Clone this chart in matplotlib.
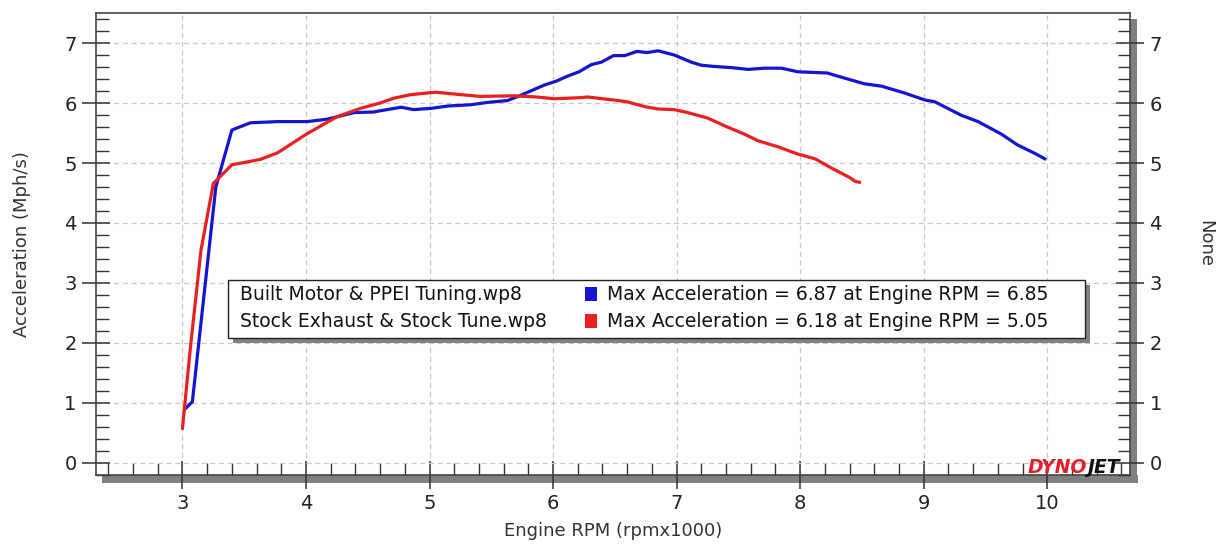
import matplotlib
matplotlib.use("Agg")
import matplotlib.pyplot as plt
from matplotlib.patches import Rectangle
from matplotlib.ticker import MultipleLocator

# ---- data ----
built_rpm = [3.02, 3.08, 3.27, 3.40, 3.55, 3.77, 4.01, 4.17, 4.39, 4.55, 4.60, 4.77, 4.87,
             5.01, 5.15, 5.33, 5.47, 5.63, 5.74, 5.93, 6.02, 6.12, 6.21, 6.31, 6.39, 6.49,
             6.58, 6.68, 6.76, 6.85, 6.98, 7.12, 7.20, 7.30, 7.44, 7.58, 7.71, 7.85, 7.98,
             8.22, 8.30, 8.52, 8.66, 8.84, 9.01, 9.09, 9.30, 9.44, 9.63, 9.76, 9.90, 9.98]
built_acc = [0.90, 1.02, 4.60, 5.55, 5.67, 5.69, 5.69, 5.73, 5.84, 5.85, 5.87, 5.93, 5.89,
             5.91, 5.95, 5.97, 6.01, 6.04, 6.13, 6.30, 6.36, 6.45, 6.52, 6.64, 6.68, 6.79,
             6.79, 6.86, 6.84, 6.87, 6.80, 6.68, 6.63, 6.61, 6.59, 6.56, 6.58, 6.58, 6.52,
             6.50, 6.45, 6.32, 6.28, 6.17, 6.05, 6.02, 5.80, 5.69, 5.48, 5.30, 5.16, 5.07]

stock_rpm = [3.00, 3.065, 3.15, 3.25, 3.40, 3.63, 3.77, 4.01, 4.25, 4.44, 4.60, 4.71, 4.85,
             5.05, 5.25, 5.41, 5.68, 5.87, 6.01, 6.23, 6.28, 6.49, 6.60, 6.74, 6.85, 6.98,
             7.09, 7.25, 7.41, 7.55, 7.66, 7.82, 7.98, 8.12, 8.25, 8.39, 8.45, 8.48]
stock_acc = [0.58, 1.94, 3.55, 4.66, 4.97, 5.06, 5.17, 5.49, 5.77, 5.91, 6.00, 6.08, 6.14,
             6.18, 6.14, 6.11, 6.12, 6.10, 6.07, 6.09, 6.10, 6.05, 6.02, 5.94, 5.90, 5.89,
             5.84, 5.75, 5.60, 5.48, 5.37, 5.27, 5.15, 5.07, 4.92, 4.77, 4.69, 4.68]

run_names = ["Built Motor & PPEI Tuning.wp8", "Stock Exhaust & Stock Tune.wp8"]
run_notes = ["Max Acceleration = 6.87 at Engine RPM = 6.85",
             "Max Acceleration = 6.18 at Engine RPM = 5.05"]
run_colors = ["#1414d2", "#e82020"]

x_ticks = [3, 4, 5, 6, 7, 8, 9, 10]
y_ticks = [0, 1, 2, 3, 4, 5, 6, 7]

# ---- figure ----
W, H = 1221, 544
fig = plt.figure(figsize=(W / 100, H / 100), dpi=100)
ax_l, ax_r, ax_b, ax_t = 96, 1130, 475, 13
ax = fig.add_axes([ax_l / W, 1 - ax_b / H, (ax_r - ax_l) / W, (ax_b - ax_t) / H])

ax.plot(built_rpm, built_acc, color=run_colors[0], lw=2.3, zorder=3)
ax.plot(stock_rpm, stock_acc, color=run_colors[1], lw=2.3, zorder=3)

ax.set_xlim(2.3, 10.67)
ax.set_ylim(-0.2, 7.5)
ax.set_xticks(x_ticks)
ax.set_yticks(y_ticks)
ax.xaxis.set_minor_locator(MultipleLocator(0.2))
ax.yaxis.set_minor_locator(MultipleLocator(0.2))
ax.grid(True, which="major", ls=(0, (4, 3)), color="#c8c8c8", lw=0.9)
ax.set_axisbelow(True)

tc = "#222222"
ax.tick_params(which="major", direction="inout", length=20, width=1.1, color="#333333",
               labelsize=14, labelcolor=tc, pad=4)
ax.tick_params(which="minor", direction="in", length=9, width=1.0, color="#333333")
ax.tick_params(axis="x", which="both", top=False)
ax.tick_params(axis="y", which="both", right=False)
for s in ax.spines.values():
    s.set_color("#444444")
    s.set_linewidth(1.2)

ax.set_xlabel("Engine RPM (rpmx1000)", fontsize=13, color="#333333", labelpad=6)
ax.set_ylabel("Acceleration (Mph/s)", fontsize=13, color="#333333", labelpad=24)

ax2 = ax.twinx()
ax2.set_ylim(ax.get_ylim())
ax2.set_yticks(y_ticks)
ax2.yaxis.set_minor_locator(MultipleLocator(0.2))
ax2.tick_params(which="major", direction="inout", length=20, width=1.1, color="#333333",
                labelsize=14, labelcolor=tc, pad=4)
ax2.tick_params(which="minor", direction="in", length=9, width=1.0, color="#333333")
ax2.set_ylabel("None", fontsize=13, color="#333333", rotation=270, labelpad=38)
for s in ax2.spines.values():
    s.set_visible(False)

# frame shadow (right and bottom)
sh = 7
fig.add_artist(Rectangle(((ax_l + 6) / W, 1 - (ax_b + sh + 1) / H), (ax_r - ax_l + sh - 5) / W, (sh + 1) / H,
                         transform=fig.transFigure, color="#808080", zorder=-1, lw=0))
fig.add_artist(Rectangle((ax_r / W, 1 - (ax_b + sh + 1) / H), sh / W, (ax_b - ax_t - 5 + sh) / H,
                         transform=fig.transFigure, color="#808080", zorder=-1, lw=0))

# legend box
lx0, lx1, ly0, ly1 = 0.1277, 0.9565, 0.2963, 0.4218
off_x, off_y = 5 / (ax_r - ax_l), 5 / (ax_b - ax_t)
ax.add_patch(Rectangle((lx0 + off_x, ly0 - off_y), lx1 - lx0, ly1 - ly0, transform=ax.transAxes,
                       facecolor="#808080", edgecolor="none", zorder=4))
ax.add_patch(Rectangle((lx0, ly0), lx1 - lx0, ly1 - ly0, transform=ax.transAxes,
                       facecolor="white", edgecolor="#222222", lw=1.0, zorder=5))
row_y = [0.3915, 0.3331]
for i in range(2):
    ax.text(0.139, row_y[i], run_names[i], transform=ax.transAxes, fontsize=13.5,
            color="#111111", va="center", ha="left", zorder=6)
    ax.add_patch(Rectangle((0.473, row_y[i] - 0.015), 0.0115, 0.030, transform=ax.transAxes,
                           facecolor=run_colors[i], edgecolor="none", zorder=6))
    ax.text(0.494, row_y[i], run_notes[i], transform=ax.transAxes, fontsize=13.5,
            color="#111111", va="center", ha="left", zorder=6)

# logo
ax.text(0.959, 0.016, "DYNO", transform=ax.transAxes, fontsize=13.5, fontweight="bold",
        fontstyle="italic", color="#e0202a", ha="right", va="center", zorder=6)
ax.text(0.959, 0.016, "JET", transform=ax.transAxes, fontsize=13.5, fontweight="bold",
        fontstyle="italic", color="#111111", ha="left", va="center", zorder=6)

fig.savefig("out.png", dpi=100)
